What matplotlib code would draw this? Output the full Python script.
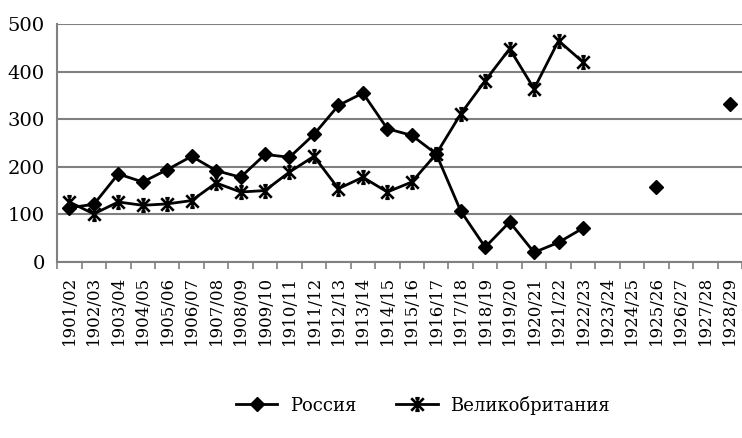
import numpy as np
import matplotlib
matplotlib.use('Agg')
import matplotlib.pyplot as plt
from matplotlib.path import Path

# academic years on the x axis
years = ['1901/02', '1902/03', '1903/04', '1904/05', '1905/06', '1906/07',
         '1907/08', '1908/09', '1909/10', '1910/11', '1911/12', '1912/13',
         '1913/14', '1914/15', '1915/16', '1916/17', '1917/18', '1918/19',
         '1919/20', '1920/21', '1921/22', '1922/23', '1923/24', '1924/25',
         '1925/26', '1926/27', '1927/28', '1928/29']

nan = np.nan
russia = [114, 121, 185, 168, 194, 222, 192, 178, 226, 220, 268, 329,
          355, 280, 266, 227, 107, 31, 84, 20, 41, 71, nan, nan,
          157, nan, nan, 333]
britain = [126, 101, 126, 119, 122, 129, 166, 147, 150, 189, 222, 154,
           178, 147, 168, 227, 311, 381, 448, 364, 465, 420, nan, nan,
           nan, nan, nan, nan]

yticks = [0, 100, 200, 300, 400, 500]

# excel-like "star": an X with a vertical stroke and short caps
M, L = Path.MOVETO, Path.LINETO
star = Path([(-1, -1), (1, 1), (-1, 1), (1, -1), (0, -1), (0, 1),
             (-0.35, 1), (0.35, 1), (-0.35, -1), (0.35, -1)],
            [M, L, M, L, M, L, M, L, M, L])

plt.rcParams['font.family'] = ['DejaVu Serif']

fig = plt.figure(figsize=(7.42, 4.38), dpi=100)
ax = fig.add_axes([0.077, 0.402, 0.923, 0.543])

x = np.arange(len(years))
ax.plot(x, russia, color='black', lw=2, marker='D', ms=7,
        label='Россия')
ax.plot(x, britain, color='black', lw=2, marker=star, ms=9,
        mew=1.9, label='Великобритания')

ax.set_xlim(-0.5, len(years) - 0.5)
ax.set_ylim(0, 500)
ax.set_yticks(yticks)
ax.set_yticklabels([str(v) for v in yticks], fontsize=14)
ax.yaxis.grid(True, color='#808080', lw=1.5)
ax.set_axisbelow(True)

# category labels centred, tick marks between categories
ax.set_xticks(x)
ax.set_xticklabels(years, rotation=90, fontsize=12)
ax.set_xticks(np.arange(len(years) + 1) - 0.5, minor=True)
ax.tick_params(axis='x', which='major', length=0, pad=10)
ax.tick_params(axis='x', which='minor', length=5, width=1.2, color='#808080')
ax.tick_params(axis='y', length=0, pad=9)

for side in ['top', 'right']:
    ax.spines[side].set_visible(False)
for side in ['left', 'bottom']:
    ax.spines[side].set_color('#808080')
    ax.spines[side].set_linewidth(1.5)

fig.legend(loc='center', bbox_to_anchor=(0.57, 0.075), ncol=2,
           frameon=False, fontsize=13, handlelength=2.3,
           columnspacing=2.2, handletextpad=0.7)

plt.savefig('out.png', dpi=100)
